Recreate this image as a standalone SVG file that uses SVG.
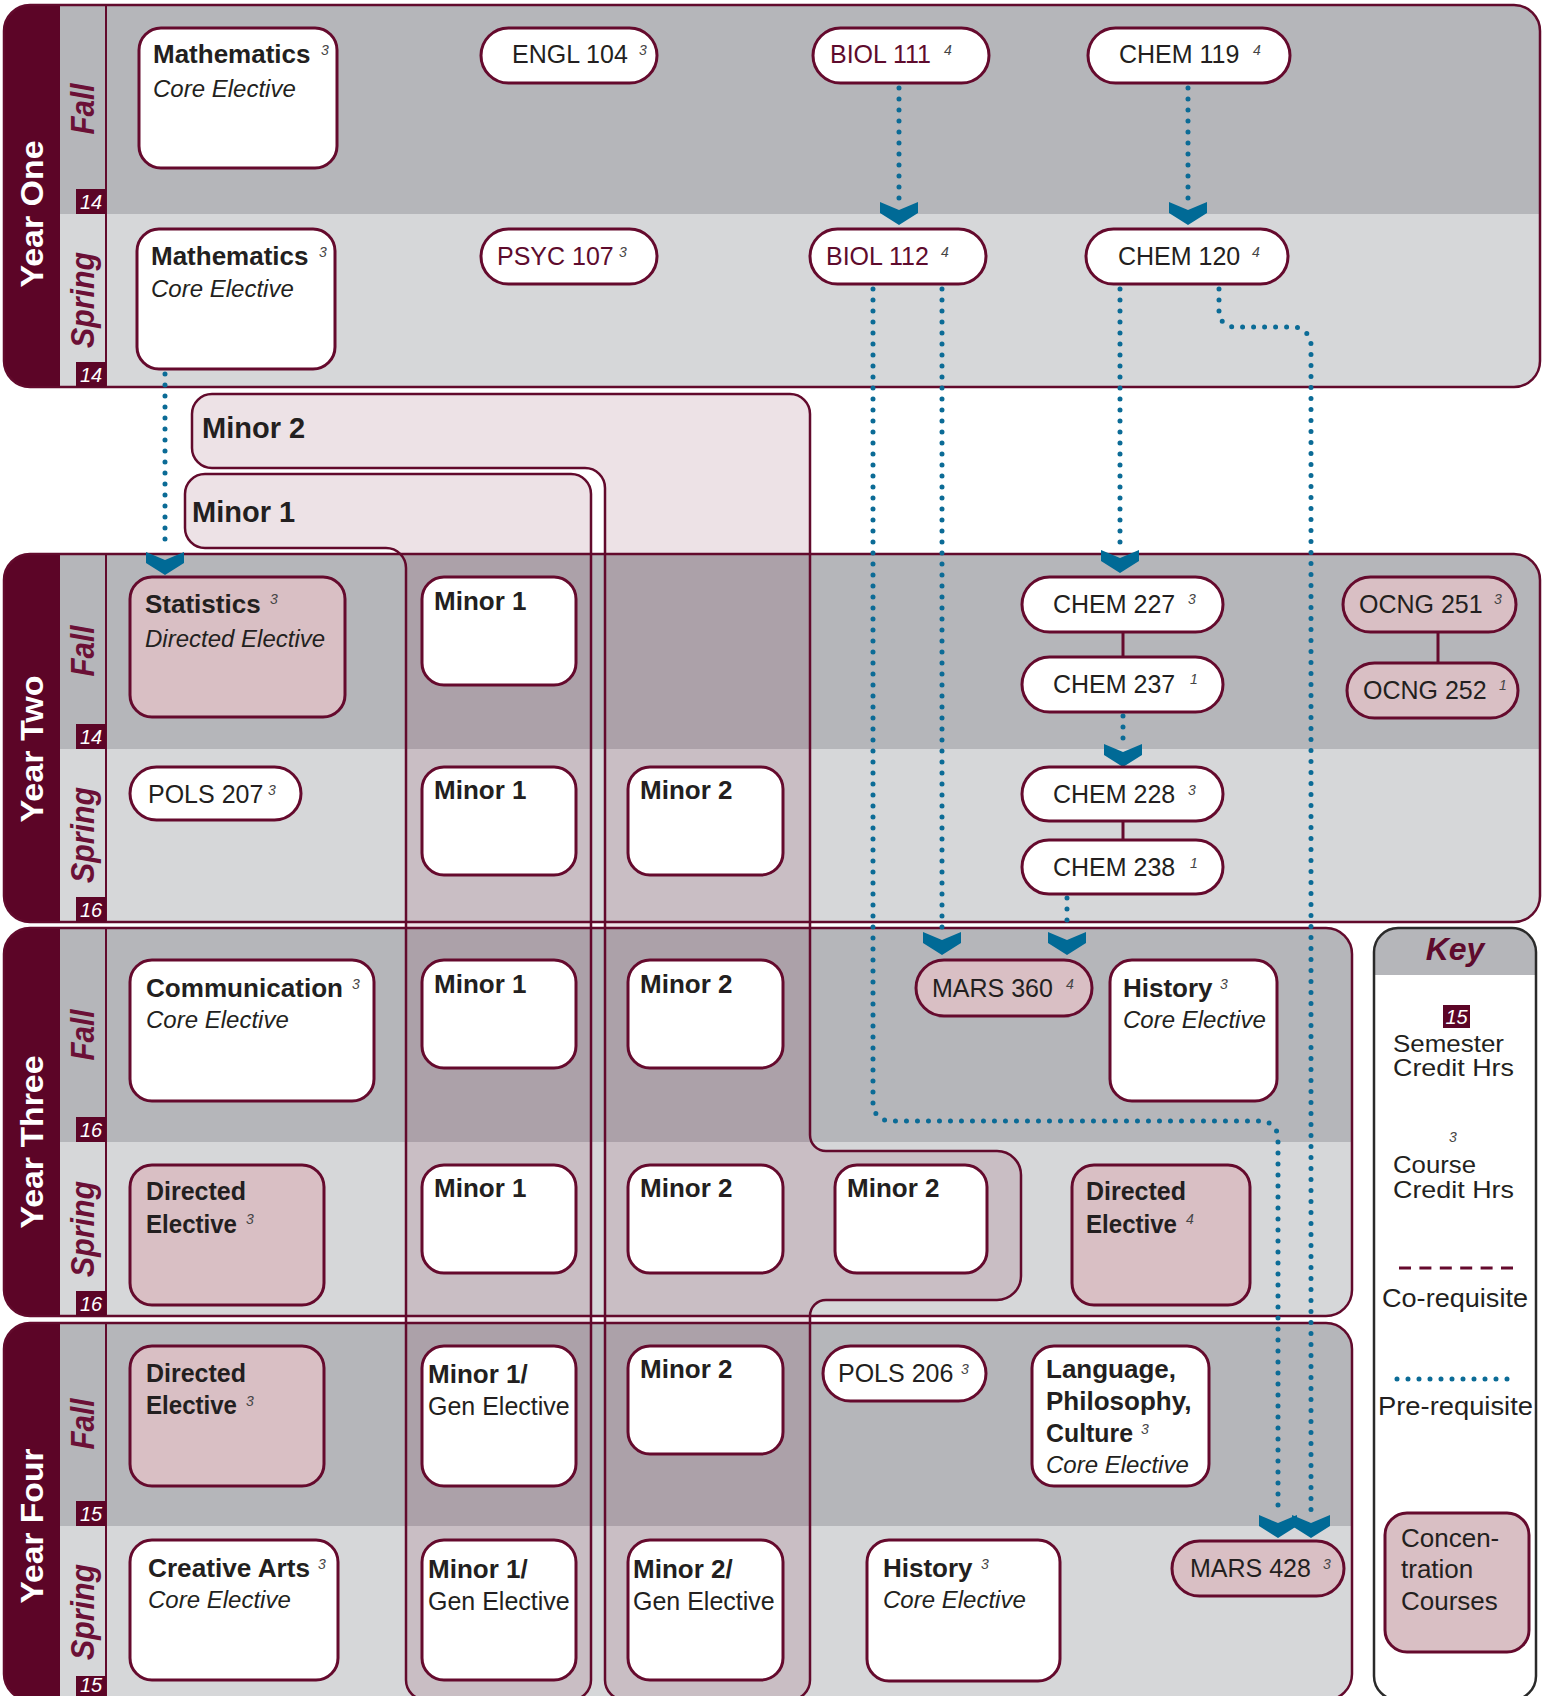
<svg xmlns="http://www.w3.org/2000/svg" width="1544" height="1696" viewBox="0 0 1544 1696">
<defs>
<style>
text{font-family:"Liberation Sans",Arial,sans-serif;fill:#231f20}
.fall{fill:#b5b6ba}
.spr{fill:#d6d7d9}
.mar{fill:#5c0527}
.outl{fill:none;stroke:#620a2c;stroke-width:2.5}
.vl{stroke:#620a2c;stroke-width:2}
.yl{font-size:32px;font-weight:bold;fill:#fff;text-anchor:middle}
.sl{font-size:33px;font-weight:bold;font-style:italic;fill:#6b1036;text-anchor:middle}
.cb{fill:#5c0527}
.ct{font-size:20px;font-style:italic;fill:#fff;text-anchor:middle}
.reg{fill:#6e0f35;fill-opacity:.12;stroke:#620a2c;stroke-width:2.5}
.rl{font-size:29px;font-weight:bold}
.box{fill:#fff;stroke:#650a2d;stroke-width:3}
.pk{fill:#d9bfc4}
.r{font-size:25px}
.b{font-size:26px;font-weight:bold}
.i{font-size:24px;font-style:italic}
.m{fill:#5e0b2d}
.s{font-size:14px;font-style:italic;fill:#444}
.pre{fill:none;stroke:#0b6b96;stroke-width:5;stroke-linecap:round;stroke-dasharray:0 11}
.co{fill:none;stroke:#650a2d;stroke-width:3}
.chev{fill:#006a96}
.dash{fill:none;stroke:#650a2d;stroke-width:3;stroke-dasharray:12 8.4}
.kt{font-size:26px}
.kt2{font-size:24px}
</style>
<clipPath id="cy1"><rect x="4" y="5" width="1536" height="382" rx="26"/></clipPath>
<clipPath id="cy2"><rect x="4" y="554" width="1536" height="368" rx="26"/></clipPath>
<clipPath id="cy3"><rect x="4" y="928" width="1348" height="388" rx="26"/></clipPath>
<clipPath id="cy4"><rect x="4" y="1323" width="1348" height="377" rx="26"/></clipPath>
<path id="chev" d="M-19,0 L0,8 L19,0 V11 L0,23 L-19,11 Z"/>
</defs>

<g id="year-one">
<g clip-path="url(#cy1)">
<rect class="fall" x="4" y="5" width="1536" height="209"/>
<rect class="spr" x="4" y="214" width="1536" height="173"/>
<rect class="mar" x="4" y="5" width="56" height="382"/>
</g>
<rect class="outl" x="4" y="5" width="1536" height="382" rx="26"/>
<line class="vl" x1="106" y1="6" x2="106" y2="386"/>
<text class="yl" transform="translate(43,214) rotate(-90)" textLength="147" lengthAdjust="spacingAndGlyphs">Year One</text>
<text class="sl" transform="translate(94,109) rotate(-90)" textLength="51" lengthAdjust="spacingAndGlyphs">Fall</text>
<text class="sl" transform="translate(94,300) rotate(-90)" textLength="96" lengthAdjust="spacingAndGlyphs">Spring</text>
<rect class="cb" x="76" y="189" width="30" height="25"/><text class="ct" x="91" y="209">14</text>
<rect class="cb" x="76" y="362" width="30" height="25"/><text class="ct" x="91" y="382">14</text>
</g>

<g id="year-two">
<g clip-path="url(#cy2)">
<rect class="fall" x="4" y="554" width="1536" height="195"/>
<rect class="spr" x="4" y="749" width="1536" height="173"/>
<rect class="mar" x="4" y="554" width="56" height="368"/>
</g>
<rect class="outl" x="4" y="554" width="1536" height="368" rx="26"/>
<line class="vl" x1="106" y1="555" x2="106" y2="921"/>
<text class="yl" transform="translate(43,749) rotate(-90)" textLength="147" lengthAdjust="spacingAndGlyphs">Year Two</text>
<text class="sl" transform="translate(94,651) rotate(-90)" textLength="51" lengthAdjust="spacingAndGlyphs">Fall</text>
<text class="sl" transform="translate(94,835) rotate(-90)" textLength="96" lengthAdjust="spacingAndGlyphs">Spring</text>
<rect class="cb" x="76" y="724" width="30" height="25"/><text class="ct" x="91" y="744">14</text>
<rect class="cb" x="76" y="897" width="30" height="25"/><text class="ct" x="91" y="917">16</text>
</g>

<g id="year-three">
<g clip-path="url(#cy3)">
<rect class="fall" x="4" y="928" width="1348" height="214"/>
<rect class="spr" x="4" y="1142" width="1348" height="174"/>
<rect class="mar" x="4" y="928" width="56" height="388"/>
</g>
<rect class="outl" x="4" y="928" width="1348" height="388" rx="26"/>
<line class="vl" x1="106" y1="929" x2="106" y2="1315"/>
<text class="yl" transform="translate(43,1142) rotate(-90)" textLength="173" lengthAdjust="spacingAndGlyphs">Year Three</text>
<text class="sl" transform="translate(94,1035) rotate(-90)" textLength="51" lengthAdjust="spacingAndGlyphs">Fall</text>
<text class="sl" transform="translate(94,1229) rotate(-90)" textLength="96" lengthAdjust="spacingAndGlyphs">Spring</text>
<rect class="cb" x="76" y="1117" width="30" height="25"/><text class="ct" x="91" y="1137">16</text>
<rect class="cb" x="76" y="1291" width="30" height="25"/><text class="ct" x="91" y="1311">16</text>
</g>

<g id="year-four">
<g clip-path="url(#cy4)">
<rect class="fall" x="4" y="1323" width="1348" height="203"/>
<rect class="spr" x="4" y="1526" width="1348" height="174"/>
<rect class="mar" x="4" y="1323" width="56" height="377"/>
</g>
<rect class="outl" x="4" y="1323" width="1348" height="377" rx="26"/>
<line class="vl" x1="106" y1="1324" x2="106" y2="1699"/>
<text class="yl" transform="translate(43,1526) rotate(-90)" textLength="155" lengthAdjust="spacingAndGlyphs">Year Four</text>
<text class="sl" transform="translate(94,1424) rotate(-90)" textLength="51" lengthAdjust="spacingAndGlyphs">Fall</text>
<text class="sl" transform="translate(94,1612) rotate(-90)" textLength="96" lengthAdjust="spacingAndGlyphs">Spring</text>
<rect class="cb" x="76" y="1501" width="30" height="25"/><text class="ct" x="91" y="1521">15</text>
<rect class="cb" x="76" y="1676" width="30" height="24"/><text class="ct" x="91" y="1692">15</text>
</g>

<g id="region-minor-2">
<path class="reg" d="M212,394 H790 A20,20 0 0 1 810,414 V1135 A16,16 0 0 0 826,1151 H997 A24,24 0 0 1 1021,1175 V1276 A24,24 0 0 1 997,1300 H826 A16,16 0 0 0 810,1316 V1680 A20,20 0 0 1 790,1700 H625 A20,20 0 0 1 605,1680 V488 A20,20 0 0 0 585,468 H212 A20,20 0 0 1 192,448 V414 A20,20 0 0 1 212,394 Z"/>
<text class="rl" x="202" y="438">Minor 2</text>
</g>
<g id="region-minor-1">
<path class="reg" d="M205,474 H571 A20,20 0 0 1 591,494 V1680 A20,20 0 0 1 571,1700 H426 A20,20 0 0 1 406,1680 V568 A20,20 0 0 0 386,548 H205 A20,20 0 0 1 185,528 V494 A20,20 0 0 1 205,474 Z"/>
<text class="rl" x="192" y="522">Minor 1</text>
</g>

<g id="connectors">
<path class="pre" d="M165,374 V548"/>
<path class="pre" d="M899,88 V200"/>
<path class="pre" d="M1188,88 V200"/>
<path class="pre" d="M942,289 V930"/>
<path class="pre" d="M873,289 V1104 A17,17 0 0 0 890,1121 H1261 A17,17 0 0 1 1278,1138 V1513"/>
<path class="pre" d="M1120,289 V548"/>
<path class="pre" d="M1219,289 V312 A15,15 0 0 0 1234,327 H1293 A18,18 0 0 1 1311,345 V1513"/>
<path class="pre" d="M1123,716 V742"/>
<path class="pre" d="M1067,898 V930"/>
<use href="#chev" class="chev" x="165" y="552"/>
<use href="#chev" class="chev" x="899" y="202"/>
<use href="#chev" class="chev" x="1188" y="202"/>
<use href="#chev" class="chev" x="1120" y="550"/>
<use href="#chev" class="chev" x="1123" y="744"/>
<use href="#chev" class="chev" x="942" y="932"/>
<use href="#chev" class="chev" x="1067" y="932"/>
<use href="#chev" class="chev" x="1278" y="1515"/>
<use href="#chev" class="chev" x="1311" y="1515"/>
<path class="co" d="M1123,632 V657"/>
<path class="co" d="M1123,821 V840"/>
<path class="co" d="M1438,632 V663"/>
</g>

<g id="n-math-fall"><rect class="box" x="139" y="28" width="198" height="140" rx="22"/><text class="b" x="153" y="63">Mathematics</text><text class="s" x="321" y="55">3</text><text class="i" x="153" y="97">Core Elective</text></g>
<g id="n-engl104"><rect class="box" x="481" y="28" width="176" height="55" rx="27.5"/><text class="r" x="512" y="63">ENGL 104</text><text class="s" x="639" y="55">3</text></g>
<g id="n-biol111"><rect class="box" x="813" y="28" width="176" height="55" rx="27.5"/><text class="r m" x="830" y="63">BIOL 111</text><text class="s" x="944" y="55">4</text></g>
<g id="n-chem119"><rect class="box" x="1088" y="28" width="202" height="55" rx="27.5"/><text class="r" x="1119" y="63">CHEM 119</text><text class="s" x="1253" y="55">4</text></g>
<g id="n-math-spring"><rect class="box" x="137" y="229" width="198" height="140" rx="22"/><text class="b" x="151" y="265">Mathematics</text><text class="s" x="319" y="257">3</text><text class="i" x="151" y="297">Core Elective</text></g>
<g id="n-psyc107"><rect class="box" x="481" y="229" width="176" height="55" rx="27.5"/><text class="r m" x="497" y="265">PSYC 107</text><text class="s" x="619" y="257">3</text></g>
<g id="n-biol112"><rect class="box" x="810" y="229" width="176" height="55" rx="27.5"/><text class="r m" x="826" y="265">BIOL 112</text><text class="s" x="941" y="257">4</text></g>
<g id="n-chem120"><rect class="box" x="1086" y="229" width="202" height="55" rx="27.5"/><text class="r" x="1118" y="265">CHEM 120</text><text class="s" x="1252" y="257">4</text></g>

<g id="n-statistics"><rect class="box pk" x="130" y="577" width="215" height="140" rx="22"/><text class="b" x="145" y="613">Statistics</text><text class="s" x="270" y="604">3</text><text class="i" x="145" y="647">Directed Elective</text></g>
<g id="n-minor1-y2f"><rect class="box" x="422" y="577" width="154" height="108" rx="22"/><text class="b" x="434" y="610">Minor 1</text></g>
<g id="n-chem227"><rect class="box" x="1022" y="577" width="201" height="55" rx="27.5"/><text class="r" x="1053" y="613">CHEM 227</text><text class="s" x="1188" y="604">3</text></g>
<g id="n-chem237"><rect class="box" x="1022" y="657" width="201" height="55" rx="27.5"/><text class="r" x="1053" y="693">CHEM 237</text><text class="s" x="1190" y="684">1</text></g>
<g id="n-ocng251"><rect class="box pk" x="1343" y="577" width="173" height="55" rx="27.5"/><text class="r" x="1359" y="613">OCNG 251</text><text class="s" x="1494" y="604">3</text></g>
<g id="n-ocng252"><rect class="box pk" x="1347" y="663" width="171" height="55" rx="27.5"/><text class="r" x="1363" y="699">OCNG 252</text><text class="s" x="1499" y="690">1</text></g>
<g id="n-pols207"><rect class="box" x="130" y="767" width="171" height="53" rx="26.5"/><text class="r" x="148" y="803">POLS 207</text><text class="s" x="268" y="795">3</text></g>
<g id="n-minor1-y2s"><rect class="box" x="422" y="767" width="154" height="108" rx="22"/><text class="b" x="434" y="799">Minor 1</text></g>
<g id="n-minor2-y2s"><rect class="box" x="628" y="767" width="155" height="108" rx="22"/><text class="b" x="640" y="799">Minor 2</text></g>
<g id="n-chem228"><rect class="box" x="1022" y="767" width="201" height="54" rx="27"/><text class="r" x="1053" y="803">CHEM 228</text><text class="s" x="1188" y="795">3</text></g>
<g id="n-chem238"><rect class="box" x="1022" y="840" width="201" height="54" rx="27"/><text class="r" x="1053" y="876">CHEM 238</text><text class="s" x="1190" y="868">1</text></g>

<g id="n-communication"><rect class="box" x="130" y="960" width="244" height="141" rx="22"/><text class="b" x="146" y="997" textLength="197" lengthAdjust="spacingAndGlyphs">Communication</text><text class="s" x="352" y="989">3</text><text class="i" x="146" y="1028">Core Elective</text></g>
<g id="n-minor1-y3f"><rect class="box" x="422" y="960" width="154" height="108" rx="22"/><text class="b" x="434" y="993">Minor 1</text></g>
<g id="n-minor2-y3f"><rect class="box" x="628" y="960" width="155" height="108" rx="22"/><text class="b" x="640" y="993">Minor 2</text></g>
<g id="n-mars360"><rect class="box pk" x="916" y="960" width="176" height="56" rx="28"/><text class="r" x="932" y="997">MARS 360</text><text class="s" x="1066" y="989">4</text></g>
<g id="n-history-y3"><rect class="box" x="1110" y="960" width="167" height="141" rx="22"/><text class="b" x="1123" y="997">History</text><text class="s" x="1220" y="989">3</text><text class="i" x="1123" y="1028">Core Elective</text></g>
<g id="n-directed-y3a"><rect class="box pk" x="130" y="1165" width="194" height="140" rx="22"/><text class="b" x="146" y="1200" textLength="100" lengthAdjust="spacingAndGlyphs">Directed</text><text class="b" x="146" y="1233" textLength="91" lengthAdjust="spacingAndGlyphs">Elective</text><text class="s" x="246" y="1224">3</text></g>
<g id="n-minor1-y3s"><rect class="box" x="422" y="1165" width="154" height="108" rx="22"/><text class="b" x="434" y="1197">Minor 1</text></g>
<g id="n-minor2-y3s"><rect class="box" x="628" y="1165" width="155" height="108" rx="22"/><text class="b" x="640" y="1197">Minor 2</text></g>
<g id="n-minor2-y3s-b"><rect class="box" x="835" y="1165" width="152" height="108" rx="22"/><text class="b" x="847" y="1197">Minor 2</text></g>
<g id="n-directed-y3b"><rect class="box pk" x="1072" y="1165" width="178" height="140" rx="22"/><text class="b" x="1086" y="1200" textLength="100" lengthAdjust="spacingAndGlyphs">Directed</text><text class="b" x="1086" y="1233" textLength="91" lengthAdjust="spacingAndGlyphs">Elective</text><text class="s" x="1186" y="1224">4</text></g>

<g id="n-directed-y4"><rect class="box pk" x="130" y="1346" width="194" height="140" rx="22"/><text class="b" x="146" y="1382" textLength="100" lengthAdjust="spacingAndGlyphs">Directed</text><text class="b" x="146" y="1414" textLength="91" lengthAdjust="spacingAndGlyphs">Elective</text><text class="s" x="246" y="1406">3</text></g>
<g id="n-minor1-y4f"><rect class="box" x="422" y="1346" width="154" height="140" rx="22"/><text class="b" x="428" y="1383">Minor 1/</text><text class="r" x="428" y="1415">Gen Elective</text></g>
<g id="n-minor2-y4f"><rect class="box" x="628" y="1346" width="155" height="108" rx="22"/><text class="b" x="640" y="1378">Minor 2</text></g>
<g id="n-pols206"><rect class="box" x="823" y="1346" width="163" height="55" rx="27.5"/><text class="r" x="838" y="1382">POLS 206</text><text class="s" x="961" y="1374">3</text></g>
<g id="n-language"><rect class="box" x="1032" y="1346" width="177" height="140" rx="22"/><text class="b" x="1046" y="1378">Language,</text><text class="b" x="1046" y="1410">Philosophy,</text><text class="b" x="1046" y="1442" textLength="87" lengthAdjust="spacingAndGlyphs">Culture</text><text class="s" x="1141" y="1434">3</text><text class="i" x="1046" y="1473">Core Elective</text></g>
<g id="n-creative-arts"><rect class="box" x="130" y="1540" width="208" height="140" rx="22"/><text class="b" x="148" y="1577" textLength="162" lengthAdjust="spacingAndGlyphs">Creative Arts</text><text class="s" x="318" y="1569">3</text><text class="i" x="148" y="1608">Core Elective</text></g>
<g id="n-minor1-y4s"><rect class="box" x="422" y="1540" width="154" height="140" rx="22"/><text class="b" x="428" y="1578">Minor 1/</text><text class="r" x="428" y="1610">Gen Elective</text></g>
<g id="n-minor2-y4s"><rect class="box" x="628" y="1540" width="155" height="140" rx="22"/><text class="b" x="633" y="1578">Minor 2/</text><text class="r" x="633" y="1610">Gen Elective</text></g>
<g id="n-history-y4"><rect class="box" x="867" y="1540" width="193" height="141" rx="22"/><text class="b" x="883" y="1577">History</text><text class="s" x="981" y="1569">3</text><text class="i" x="883" y="1608">Core Elective</text></g>
<g id="n-mars428"><rect class="box pk" x="1172" y="1541" width="172" height="55" rx="27.5"/><text class="r" x="1190" y="1577">MARS 428</text><text class="s" x="1323" y="1569">3</text></g>

<g id="key">
<rect x="1374" y="928" width="162" height="772" rx="24" fill="#fff"/>
<path class="fall" d="M1374,975 V952 A24,24 0 0 1 1398,928 H1512 A24,24 0 0 1 1536,952 V975 Z"/>
<rect x="1374" y="928" width="162" height="772" rx="24" fill="none" stroke="#2a2a2a" stroke-width="2.5"/>
<text x="1455" y="960" font-size="32" font-weight="bold" font-style="italic" text-anchor="middle" style="fill:#5e0b2d">Key</text>
<rect class="cb" x="1443" y="1005" width="27" height="23"/><text class="ct" x="1456.5" y="1024">15</text>
<text class="kt2" x="1393" y="1052" textLength="111" lengthAdjust="spacingAndGlyphs">Semester</text>
<text class="kt2" x="1393" y="1076" textLength="121" lengthAdjust="spacingAndGlyphs">Credit Hrs</text>
<text class="s" x="1449" y="1142">3</text>
<text class="kt2" x="1393" y="1173" textLength="83" lengthAdjust="spacingAndGlyphs">Course</text>
<text class="kt2" x="1393" y="1198" textLength="121" lengthAdjust="spacingAndGlyphs">Credit Hrs</text>
<path class="dash" d="M1399,1268 H1513"/>
<text class="kt" x="1382" y="1307" textLength="146" lengthAdjust="spacingAndGlyphs">Co-requisite</text>
<path class="pre" d="M1397,1379 H1518"/>
<text class="kt" x="1378" y="1415" textLength="155" lengthAdjust="spacingAndGlyphs">Pre-requisite</text>
<rect class="box pk" x="1385" y="1513" width="144" height="139" rx="22"/>
<text class="kt" x="1401" y="1547">Concen-</text>
<text class="kt" x="1401" y="1578">tration</text>
<text class="kt" x="1401" y="1610">Courses</text>
</g>
</svg>
